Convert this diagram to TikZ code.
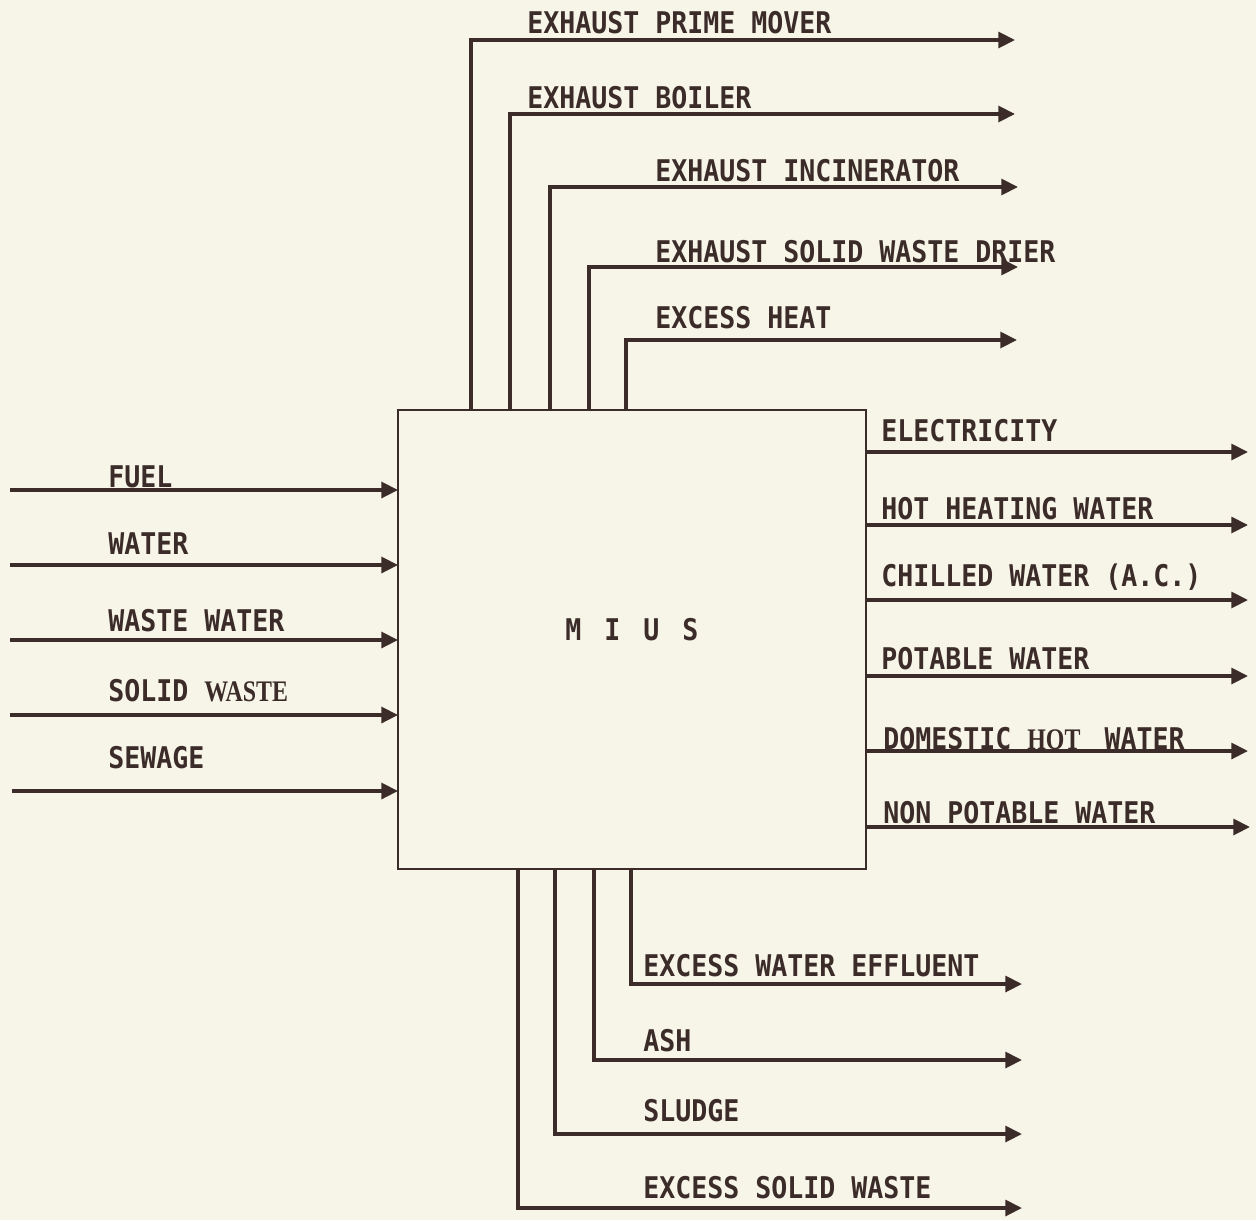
\documentclass[tikz,border=0pt]{standalone}
\usepackage{fontspec}
\usetikzlibrary{arrows.meta,calc}
\newfontfamily\lblfont[FakeStretch=0.89]{DejaVu Sans Mono}
\newfontfamily\srffont[FakeStretch=0.8]{Liberation Serif}
\definecolor{ink}{HTML}{3B2C2A}
\definecolor{paper}{HTML}{F7F5E7}
\begin{document}
\begin{tikzpicture}[x=0.02cm,y=-0.02cm,
  flow/.style={line width=2.1pt,draw=ink,-{Triangle[length=9.5pt,width=9pt]}},
  txt/.style={anchor=base west,inner sep=0pt,text=ink,font=\lblfont\bfseries\fontsize{17}{20}\selectfont},
  srf/.style={font=\srffont\fontsize{17}{20}\selectfont}]
\fill[paper] (0,0) rectangle (1256,1220);
\useasboundingbox (0,0) rectangle (1256,1220);
% central box
\node[draw=ink,line width=1.4pt,fill=paper,minimum width=9.36cm,minimum height=9.18cm,inner sep=0pt,outer sep=0pt] (mius) at (632,639.5) {};
\node[txt,anchor=center] (miuslbl) at (632,630) {M\hspace{0.14cm} I\hspace{0.14cm} U\hspace{0.14cm} S};
% top outputs
\coordinate (t1) at (1015,40);
\coordinate (t2) at (1015,114);
\coordinate (t3) at (1018,187);
\coordinate (t4) at (1018,267);
\coordinate (t5) at (1017,340);
\draw[flow] ($(mius.north west)+(73,0)$) |- (t1);
\draw[flow] ($(mius.north west)+(112,0)$) |- (t2);
\draw[flow] ($(mius.north west)+(152,0)$) |- (t3);
\draw[flow] ($(mius.north west)+(191,0)$) |- (t4);
\draw[flow] ($(mius.north west)+(228,0)$) |- (t5);
\node[txt] (lt1) at (527,34) {EXHAUST PRIME MOVER};
\node[txt] (lt2) at (527,109) {EXHAUST BOILER};
\node[txt] (lt3) at (655,181) {EXHAUST INCINERATOR};
\node[txt] (lt4) at (655,262) {EXHAUST SOLID WASTE DRIER};
\node[txt] (lt5) at (655,328) {EXCESS HEAT};
% left inputs
\coordinate (i1) at (10,490);
\coordinate (i2) at (10,565);
\coordinate (i3) at (10,640);
\coordinate (i4) at (10,715);
\coordinate (i5) at (12,791);
\draw[flow] (i1) -- (i1 -| mius.west);
\draw[flow] (i2) -- (i2 -| mius.west);
\draw[flow] (i3) -- (i3 -| mius.west);
\draw[flow] (i4) -- (i4 -| mius.west);
\draw[flow] (i5) -- (i5 -| mius.west);
\node[txt] (li1) at (108,487) {FUEL};
\node[txt] (li2) at (108,554) {WATER};
\node[txt] (li3) at (108,631) {WASTE WATER};
\node[txt] (li4) at (108,701) {SOLID {\srffont WASTE}};
\node[txt] (li5) at (108,768) {SEWAGE};
% right outputs
\coordinate (r1) at (1248,452);
\coordinate (r2) at (1248,525);
\coordinate (r3) at (1248,600);
\coordinate (r4) at (1248,676);
\coordinate (r5) at (1248,751);
\coordinate (r6) at (1250,827);
\draw[flow] (r1 -| mius.east) -- (r1);
\draw[flow] (r2 -| mius.east) -- (r2);
\draw[flow] (r3 -| mius.east) -- (r3);
\draw[flow] (r4 -| mius.east) -- (r4);
\draw[flow] (r5 -| mius.east) -- (r5);
\draw[flow] (r6 -| mius.east) -- (r6);
\node[txt] (lr1) at (881,441) {ELECTRICITY};
\node[txt] (lr2) at (881,519) {HOT HEATING WATER};
\node[txt] (lr3) at (881,586) {CHILLED WATER (A.C.)};
\node[txt] (lr4) at (881,669) {POTABLE WATER};
\node[txt] (lr5) at (883,749) {DOMESTIC {\srffont HOT}\hspace{0.16cm} WATER};
\node[txt] (lr6) at (883,823) {NON POTABLE WATER};
% bottom outputs
\coordinate (b1) at (1022,984);
\coordinate (b2) at (1022,1060);
\coordinate (b3) at (1022,1134);
\coordinate (b4) at (1022,1208);
\draw[flow] ($(mius.south west)+(233,0)$) |- (b1);
\draw[flow] ($(mius.south west)+(196,0)$) |- (b2);
\draw[flow] ($(mius.south west)+(157,0)$) |- (b3);
\draw[flow] ($(mius.south west)+(120,0)$) |- (b4);
\node[txt] (lb1) at (643,976) {EXCESS WATER EFFLUENT};
\node[txt] (lb2) at (643,1051) {ASH};
\node[txt] (lb3) at (643,1121) {SLUDGE};
\node[txt] (lb4) at (643,1198) {EXCESS SOLID WASTE};
\end{tikzpicture}
\end{document}
